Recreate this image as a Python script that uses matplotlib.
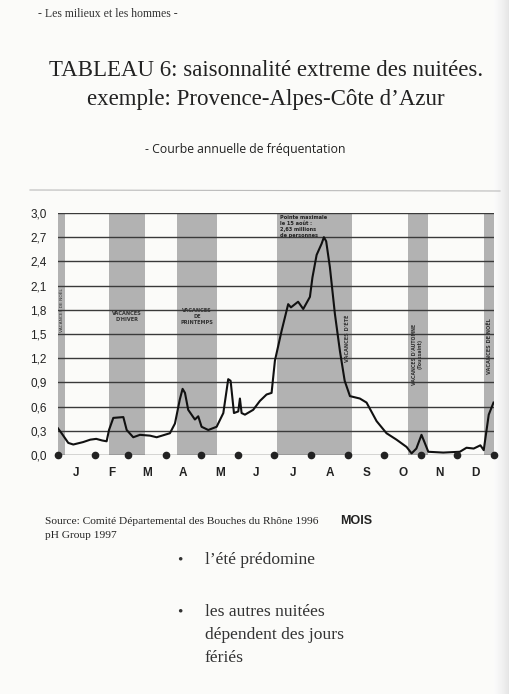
import numpy as np
import matplotlib
matplotlib.use("Agg")
import matplotlib.pyplot as plt

# day of year -> nuitées (millions)
days = [0, 3, 8.6, 12.8, 21, 27, 32, 37, 40.7, 42.7, 46.3, 54.7, 57.5, 63, 68.6, 77, 82.6,
        93.7, 97.9, 102, 104.3, 106.3, 109, 114.6, 117.4, 120.2, 125.8, 132.8, 138.4,
        142.5, 144.5, 147.3, 150.9, 152.3, 153.7, 156.5, 163.4, 169, 174.6, 178.8,
        181.6, 187.2, 192.7, 195, 201, 205.3, 210.9, 213, 216.5, 220.7, 222.6, 224.5,
        227.6, 231.8, 236, 240, 244.4, 252.7, 258.3, 266.7, 275, 283.4, 291.8, 296,
        300, 304.3, 306.5, 310, 322.5, 336.4, 342, 348, 353.6, 356.4, 360.6, 364.6]
values = [0.33, 0.27, 0.15, 0.13, 0.16, 0.19, 0.2, 0.18, 0.17, 0.31, 0.46, 0.47, 0.31, 0.22,
          0.25, 0.24, 0.22, 0.27, 0.39, 0.69, 0.82, 0.77, 0.56, 0.44, 0.48, 0.35, 0.31,
          0.35, 0.52, 0.94, 0.92, 0.52, 0.54, 0.7, 0.52, 0.5, 0.56, 0.67, 0.75, 0.77,
          1.17, 1.54, 1.87, 1.83, 1.9, 1.81, 1.96, 2.2, 2.48, 2.62, 2.7, 2.65,
          2.33, 1.75, 1.29, 0.92, 0.73, 0.7, 0.65, 0.42, 0.27, 0.19, 0.1, 0.02,
          0.08, 0.25, 0.17, 0.04, 0.03, 0.04, 0.09, 0.08, 0.12, 0.06, 0.5, 0.65]

month_starts = [0, 31, 59, 90, 120, 151, 181, 212, 243, 273, 304, 334, 365]
month_letters = ["J", "F", "M", "A", "M", "J", "J", "A", "S", "O", "N", "D"]
yticks = [0.0, 0.3, 0.6, 0.9, 1.2, 1.5, 1.8, 2.1, 2.4, 2.7, 3.0]

band_start = [0, 43, 100, 183, 293, 357]
band_end = [6, 73, 133, 246, 310, 365]
band_labels = ["VACANCES DE NOËL", "VACANCES\nD'HIVER", "VACANCES\nDE\nPRINTEMPS",
               "VACANCES D'ÉTÉ", "VACANCES D'AUTOMNE\n(Toussaint)", "VACANCES DE NOËL"]

W, H = 510, 694
fig = plt.figure(figsize=(W / 100, H / 100), dpi=100)
fig.patch.set_facecolor("#fbfbf9")

def fx(x):
    return x / W

def fy(y):
    return 1 - y / H

# light grey shadow of the page edge on the right
edge = fig.add_axes([fx(494), 0, 16 / W, 1])
edge.imshow(np.linspace(0, 1, 50)[None, :], cmap="Greys", vmin=-0.2, vmax=6,
            aspect="auto", extent=[0, 1, 0, 1])
edge.axis("off")

ax = fig.add_axes([fx(58), fy(455), (494 - 58) / W, (455 - 213) / H])
ax.set_facecolor("none")
ax.set_xlim(0, 365)
ax.set_ylim(0, 3.0)

for s, e in zip(band_start, band_end):
    ax.axvspan(s, e, color="#9a9a9a", alpha=0.75, lw=0, zorder=0)

for v in yticks:
    ax.axhline(v, color="#3a3a3a", lw=1.0, zorder=1)

ax.plot(days, values, color="#111111", lw=1.5, zorder=3)
ax.plot(month_starts, [0] * len(month_starts), "o", color="#222222", ms=4.5,
        clip_on=False, zorder=4)

# band labels
ax.text(3, 1.8, band_labels[0], rotation=90, fontsize=3.2, ha="center", va="center",
        color="#333333")
ax.text(58, 1.72, band_labels[1], fontsize=3.6, ha="center", va="center",
        color="#333333", fontweight="bold")
ax.text(116.5, 1.72, band_labels[2], fontsize=3.6, ha="center", va="center",
        color="#333333", fontweight="bold")
ax.text(242, 1.45, band_labels[3], rotation=90, fontsize=3.6, ha="center",
        va="center", color="#333333", fontweight="bold")
ax.text(301, 1.25, band_labels[4], rotation=90, fontsize=3.4, ha="center",
        va="center", color="#333333", fontweight="bold")
ax.text(361, 1.35, band_labels[5], rotation=90, fontsize=3.6, ha="center",
        va="center", color="#333333", fontweight="bold")
ax.text(186, 2.97, "Pointe maximale\nle 15 août :\n2,63 millions\nde personnes",
        fontsize=3.6, ha="left", va="top", color="#222222", fontweight="bold")

ax.set_yticks(yticks)
ax.set_yticklabels([("%.1f" % v).replace(".", ",") for v in yticks],
                   fontsize=8.5, family="Liberation Sans", color="#222222")
ax.tick_params(axis="y", length=0, pad=8)
mids = [(a + b) / 2 for a, b in zip(month_starts[:-1], month_starts[1:])]
ax.set_xticks(mids)
ax.set_xticklabels(month_letters, fontsize=8.5, fontweight="bold",
                   family="Liberation Sans", color="#222222")
ax.tick_params(axis="x", length=0, pad=9)
for sp in ax.spines.values():
    sp.set_visible(False)

# page texts
fig.text(fx(38), fy(14), "- Les milieux et les hommes -", fontsize=8.5,
         family="Liberation Serif", va="center", color="#333333")
fig.text(fx(266), fy(70), "TABLEAU 6: saisonnalité extreme des nuitées.",
         fontsize=16.5, family="Liberation Serif", ha="center", va="center",
         color="#222222")
fig.text(fx(266), fy(100), "exemple: Provence-Alpes-Côte d’Azur",
         fontsize=16.5, family="Liberation Serif", ha="center", va="center",
         color="#222222")
fig.text(fx(245), fy(150), "- Courbe annuelle de fréquentation", fontsize=8.8,
         family="Open Sans", ha="center", va="center", color="#222222")
fig.add_artist(plt.Line2D([fx(30), fx(500)], [fy(190), fy(191)], color="#bbbbbb",
                          lw=0.8))
fig.text(fx(45), fy(522), "Source: Comité Départemental des Bouches du Rhône 1996",
         fontsize=8.2, family="Liberation Serif", va="center", color="#222222")
fig.text(fx(45), fy(535), "pH Group 1997", fontsize=8.2, family="Liberation Serif",
         va="center", color="#222222")
fig.text(fx(340), fy(521), "MOIS", fontsize=9, family="Liberation Sans",
         fontweight="bold", va="center", color="#222222")

for y in [560, 612]:
    fig.text(fx(177), fy(y), "•", fontsize=11, family="Liberation Serif",
             va="center", color="#333333")
bullet_lines = ["l’été prédomine", "les autres nuitées", "dépendent des jours", "fériés"]
bullet_y = [560, 612, 635, 658]
for txt, y in zip(bullet_lines, bullet_y):
    fig.text(fx(205), fy(y), txt, fontsize=12.6, family="Liberation Serif",
             va="center", color="#333333")

fig.savefig("out.png", dpi=100, facecolor=fig.get_facecolor())
